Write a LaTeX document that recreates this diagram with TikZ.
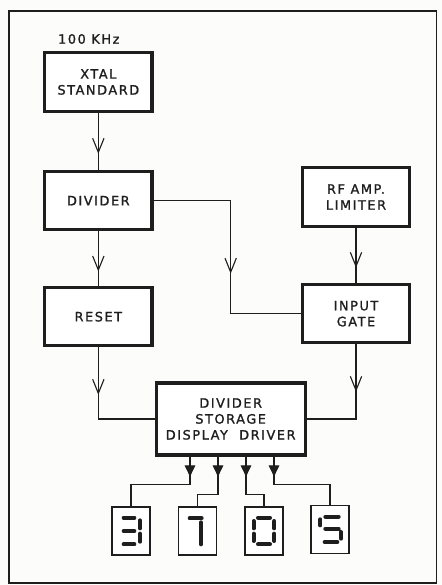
\documentclass[tikz,border=0pt]{standalone}
\usepackage{fontspec}
\newfontfamily\lettering[LetterSpace=12,FakeBold=1.3]{DejaVu Sans}
\usetikzlibrary{arrows.meta,decorations.markings}
\definecolor{ink}{HTML}{1E1E1E}
\definecolor{paper}{HTML}{FCFCFB}

\begin{document}
\begin{tikzpicture}[x=1cm,y=1cm,
      block/.style={draw=ink,line width=2.8pt,fill=white,minimum width=3.22cm,minimum height=1.75cm,
                    align=center,inner sep=2pt,font=\lettering\fontsize{11}{13.6}\selectfont,text=ink},
      digitbox/.style={draw=ink,line width=1.1pt,fill=white,minimum width=1.14cm,minimum height=1.44cm,inner sep=0pt},
      flow/.style={draw=ink,line width=.95pt,postaction=decorate,
                   decoration={markings,mark=at position #1 with {\arrow{Straight Barb[length=4.2mm,width=3.4mm]}}}},
      bus/.style={draw=ink,line width=.95pt,postaction=decorate,
                   decoration={markings,mark=at position #1 with {\arrow{Triangle[length=3.4mm,width=3.2mm]}}}},
      seg/.style={draw=ink,line width=3.4pt,line cap=round}]
    \useasboundingbox (0,0) rectangle (13.26,-17.55);
    \fill[paper] (0,0) rectangle (13.26,-17.55);
    \draw[ink,line width=1.3pt] (.27,-.33) rectangle (13.1,-17.49);
    \node[anchor=west,font=\lettering\fontsize{11}{13.6}\selectfont,text=ink] (freq) at (1.62,-1.17) {100 KHz};
    \node[block] (xtal) at (2.95,-2.46) {XTAL\\STANDARD};
    \node[block] (divider) at (2.95,-6.02) {DIVIDER};
    \node[block] (reset) at (2.95,-9.5) {RESET};
    \node[block] (rf) at (10.68,-5.91) {RF AMP.\\LIMITER};
    \node[block] (gate) at (10.68,-9.41) {INPUT\\GATE};
    \node[block,minimum width=4.47cm,minimum height=2.16cm] (drv) at (6.92,-12.57) {DIVIDER\\STORAGE\\DISPLAY\ \ DRIVER};
    \draw[flow=1.23cm] (xtal.south) -- (divider.north);
    \draw[flow=1.2cm] (divider.south) -- (reset.north);
    \draw[flow=1.2cm] (rf.south) -- (gate.north);
    \draw[flow=4.5cm] (divider.east) -| (drv.north |- gate.west) -- (gate.west);
    \draw[flow=1.42cm] (reset.south) |- (drv.west);
    \draw[flow=1.42cm] (gate.south) |- (drv.east);

    \node[digitbox] (d1) at (3.93,-15.93) {};
    \node[digitbox] (d2) at (5.93,-15.93) {};
    \node[digitbox] (d3) at (7.92,-15.93) {};
    \node[digitbox] (d4) at (9.9,-15.88) {};
    \foreach \i/\dx/\dy in {1/-1.22/.84,2/-.38/1.14,3/.46/1.14,4/1.30/.84}
      \draw[bus=.6cm] ([xshift=\dx cm]drv.south) -- ++(0,-\dy) -| (d\i.north);

    % seven segment digits
    \begin{scope}[shift={(d1.center)}]
      \draw[seg] (-.22,.4) -- (.1,.4) (-.22,0) -- (.1,0) (-.22,-.4) -- (.1,-.4)
                 (.27,.32) -- (.27,.08) (.27,-.08) -- (.27,-.32);
    \end{scope}
    \begin{scope}[shift={(d2.center)}]
      \draw[seg] (-.24,.38) -- (.12,.38) (.1,.26) -- (.1,-.4);
    \end{scope}
    \begin{scope}[shift={(d3.center)}]
      \draw[seg] (-.18,.4) -- (.18,.4) (-.18,-.4) -- (.18,-.4)
                 (-.31,.3) -- (-.31,.08) (-.31,-.08) -- (-.31,-.3)
                 (.31,.3) -- (.31,.08) (.31,-.08) -- (.31,-.3);
    \end{scope}
    \begin{scope}[shift={(d4.center)}]
      \draw[seg] (-.14,.38) -- (.26,.38) (-.29,.3) -- (-.29,.12) (-.14,.02) -- (.26,.02)
                 (.33,-.08) -- (.33,-.28) (-.16,-.38) -- (.22,-.38);
    \end{scope}
\end{tikzpicture}
\end{document}
